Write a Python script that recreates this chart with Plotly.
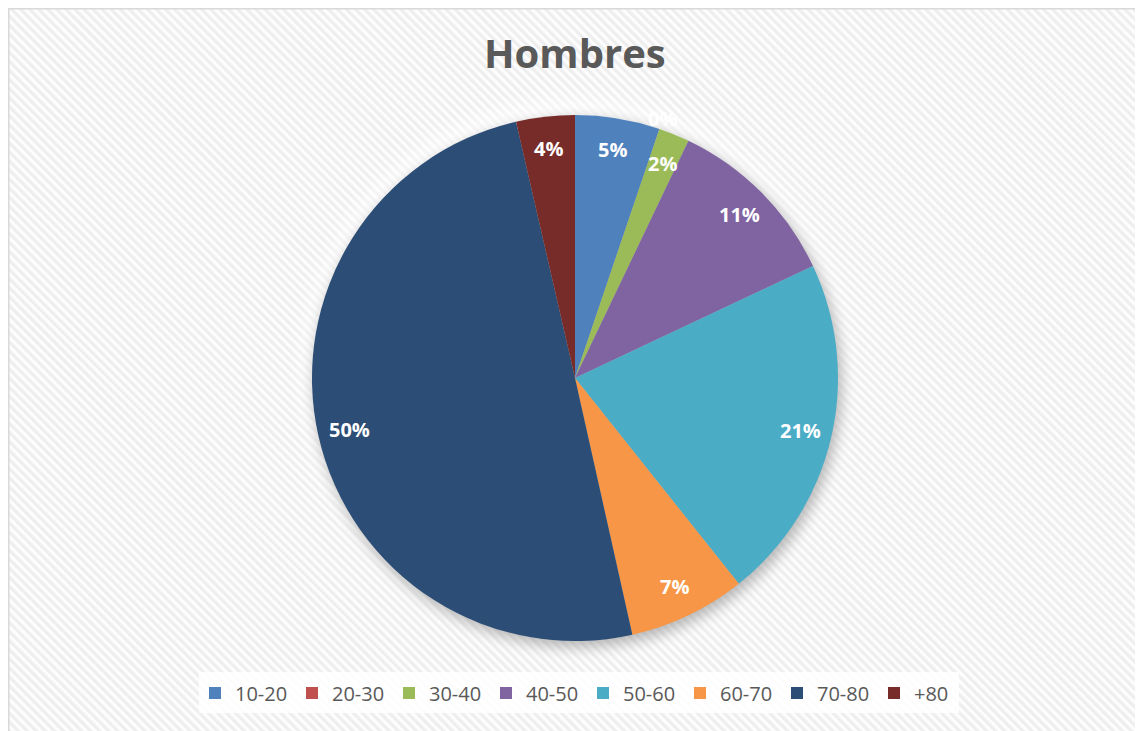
import math, base64
import plotly.graph_objects as go

# ---- data ----
labels = ["10-20", "20-30", "30-40", "40-50", "50-60", "60-70", "70-80", "+80"]
values = [5.2, 0.0, 1.9, 10.9, 21.3, 7.2, 49.9, 3.6]
colors = ["#4F81BD", "#C0504D", "#9BBB59", "#8064A2", "#4BACC6", "#F79646", "#2C4D75", "#772C2A"]
title_text = "Hombres"

W, H = 1143, 731
CX, CY, R = 567, 370, 263  # pie centre / radius in px (figure coords)

# background: stripes, chart border and pie shadow
svg = f'''<svg xmlns="http://www.w3.org/2000/svg" width="{W}" height="{H}" viewBox="0 0 {W} {H}">
<defs>
<pattern id="p" patternUnits="userSpaceOnUse" width="6.4" height="6.4" patternTransform="rotate(-45)">
<rect width="6.4" height="6.4" fill="#fdfdfd"/><rect width="3.2" height="6.4" fill="#eeeeee"/>
</pattern>
<filter id="b" x="-20%" y="-20%" width="140%" height="140%"><feGaussianBlur stdDeviation="7"/></filter>
<filter id="b2" x="-20%" y="-20%" width="140%" height="140%"><feGaussianBlur stdDeviation="10"/></filter>
</defs>
<rect width="{W}" height="{H}" fill="#ffffff"/>
<rect x="0.75" y="0.75" width="1131.5" height="760" fill="url(#p)" stroke="#d9d9d9" stroke-width="1.5"/>
<circle cx="{CX}" cy="{CY-6}" r="{R+6}" fill="#ffffff" opacity="0.8" filter="url(#b2)"/>
<circle cx="{CX+3}" cy="{CY+5}" r="{R+1}" fill="#000000" opacity="0.28" filter="url(#b)"/>
<rect x="191" y="664" width="760" height="41" fill="#ffffff" opacity="0.85"/>
</svg>'''
src = "data:image/svg+xml;base64," + base64.b64encode(svg.encode()).decode()

fig = go.Figure()
fig.add_trace(go.Pie(
    labels=labels, values=values, sort=False, direction="clockwise", rotation=0,
    marker=dict(colors=colors, line=dict(width=0)),
    textinfo="none", hoverinfo="label+percent",
    domain=dict(x=[(CX - R) / W, (CX + R) / W], y=[1 - (CY + R) / H, 1 - (CY - R) / H]),
))

# data labels placed along each slice's mid-angle
total = sum(values)
cum = 0.0
anns = []
for lab, v in zip(labels, values):
    mid = (cum + v / 2) / total * 2 * math.pi
    cum += v
    rf = 0.88 if v > 0 else 1.04
    px = CX + rf * R * math.sin(mid)
    py = CY - rf * R * math.cos(mid)
    anns.append(dict(x=px / W, y=1 - py / H, xref="paper", yref="paper", showarrow=False,
                     text=f"{round(v / total * 100):.0f}%",
                     font=dict(family="Open Sans", size=20, color="#ffffff", weight="bold"),
                     xanchor="center", yanchor="middle"))

anns.append(dict(x=CX / W, y=1 - 44 / H, xref="paper", yref="paper", showarrow=False,
                 text=title_text, xanchor="center", yanchor="middle",
                 font=dict(family="Open Sans", size=40, color="#595959", weight="bold")))

fig.update_layout(
    width=W, height=H, margin=dict(l=0, r=0, t=0, b=0),
    paper_bgcolor="#ffffff", plot_bgcolor="rgba(0,0,0,0)",
    images=[dict(source=src, xref="paper", yref="paper", x=0, y=1, sizex=1, sizey=1,
                 sizing="stretch", layer="below", xanchor="left", yanchor="top")],
    annotations=anns,
    showlegend=True,
    legend=dict(orientation="h", x=187 / W, xanchor="left", y=1 - 685 / H, yanchor="middle",
                bgcolor="rgba(0,0,0,0)", font=dict(family="Open Sans", size=20, color="#595959"),
                itemwidth=30, entrywidth=52, traceorder="normal", itemclick=False),
)

fig.write_html("out.html")
